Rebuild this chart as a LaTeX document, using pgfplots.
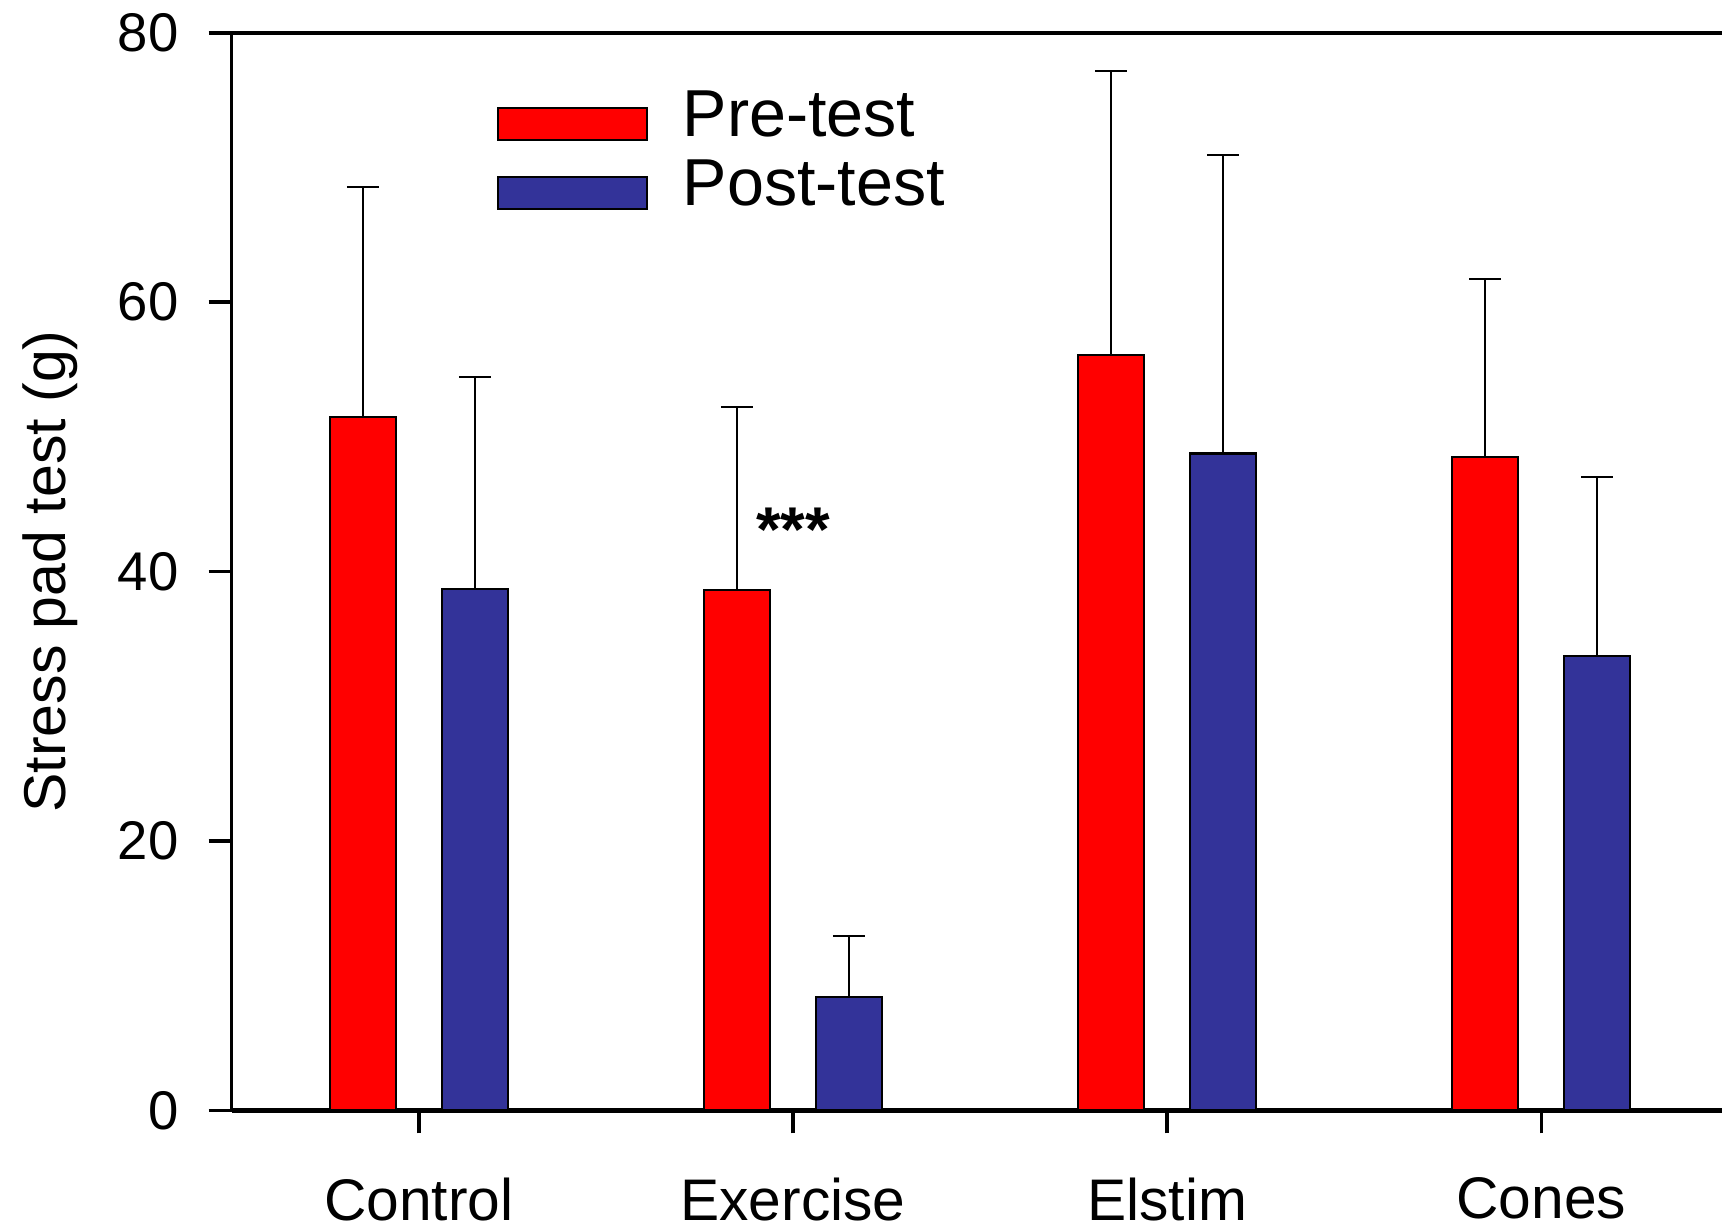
\documentclass[border=0pt]{standalone}
\usepackage{fontspec}
\setmainfont{Liberation Sans}
\usepackage{pgfplots}
\pgfplotsset{compat=1.18}
\definecolor{preRed}{RGB}{255,0,0}
\definecolor{postBlue}{RGB}{51,51,153}

\begin{document}
\begin{tikzpicture}
% the reference is cropped on the right and at the bottom
\path[use as bounding box] (-23.17mm,-11.17mm) rectangle (149.03mm,111.03mm);
\clip (-23.17mm,-11.17mm) rectangle (149.03mm,111.03mm);
\begin{axis}[
    at={(0,0)}, anchor=south west,
    scale only axis,
    width=149.67mm, height=107.74mm,
    ybar=4.6mm, bar width=6.6mm,
    xmin=0.5, xmax=4.5, ymin=0, ymax=80,
    enlargelimits=false,
    xtick={1,2,3,4},
    xticklabels={Control,Exercise,Elstim,Cones},
    ytick={0,20,40,60,80},
    xtick pos=left, ytick pos=left,
    tick align=outside,
    major tick length=2.3mm,
    tick style={black, line width=1pt},
    separate axis lines,
    x axis line style={line width=1.3pt},
    y axis line style={line width=0.9pt},
    /pgf/number format/assume math mode=true,
    yticklabel style={font=\fontsize{15.5}{17}\selectfont, inner sep=0pt, anchor=east, xshift=-2.96mm},
    xticklabel style={font=\fontsize{16.7}{18}\selectfont, inner sep=0pt, anchor=north, yshift=-4.4mm},
    ylabel={Stress pad test (g)},
    ylabel style={font=\fontsize{16.8}{18}\selectfont, inner sep=0pt,
        at={(axis description cs:-0.1401,0.5)}, anchor=north},
    legend image code/.code={\draw[#1, line width=0.6pt] (0mm,-2.37mm) rectangle (14.9mm,0.83mm);},
    legend style={draw=none, fill=none, inner sep=0pt,
        at={(rel axis cs:0.1766,0.947)}, anchor=north west,
        font=\fontsize{18.9}{20}\selectfont,
        row sep=1.85mm, column sep=3.5mm,
        nodes={inner sep=0pt}},
    legend cell align=left,
    error bars/y dir=plus,
    error bars/y explicit,
    error bars/error bar style={black, line width=0.6pt},
    error bars/error mark options={black, line width=0.6pt, mark size=1.6mm, rotate=90},
]
\addplot[fill=preRed, draw=black, line width=0.6pt] coordinates {
    (1,51.46) +- (0,17.12)
    (2,38.65) +- (0,13.54)
    (3,56.10) +- (0,21.05)
    (4,48.52) +- (0,13.21)
};
\addlegendentry{Pre-test}
\addplot[fill=postBlue, draw=black, line width=0.6pt] coordinates {
    (1,38.74) +- (0,15.73)
    (2,8.40)  +- (0,4.57)
    (3,48.77) +- (0,22.18)
    (4,33.76) +- (0,13.29)
};
\addlegendentry{Post-test}
\node[font=\fontsize{18}{19}\selectfont\bfseries] at (axis cs:2,43.1) {***};
\end{axis}
\end{tikzpicture}
\end{document}
